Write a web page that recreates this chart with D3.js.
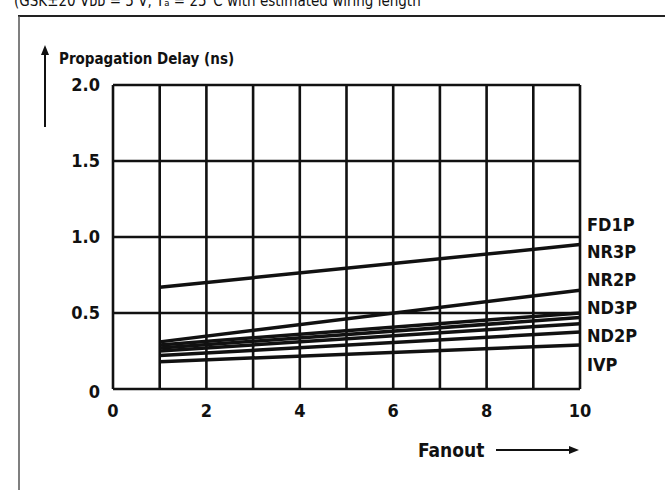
<!DOCTYPE html>
<html>
<head>
<meta charset="utf-8">
<script src="https://cdn.jsdelivr.net/npm/d3@7"></script>
<style>
  body { margin: 0; background: #fff; }
  text { font-family: "DejaVu Sans Condensed", "Liberation Sans Narrow", sans-serif; font-weight: bold; fill: #111; }
</style>
</head>
<body>
<svg width="665" height="490"></svg>
<script>
// fanout points where every curve is read
var fanout = [1, 10];

// delay values (ns), top to bottom
var seriesNames = ["FD1P", "NR3P", "NR2P", "ND3P", "ND2Pa", "ND2P", "IVP"];
var seriesValues = [
    [0.67, 0.95],
    [0.31, 0.65],
    [0.29, 0.50],
    [0.27, 0.47],
    [0.25, 0.43],
    [0.22, 0.375],
    [0.18, 0.29]
];

var labelNames = ["FD1P", "NR3P", "NR2P", "ND3P", "ND2P", "IVP"];
var labelValues = [1.08, 0.90, 0.72, 0.535, 0.35, 0.16];

var xTicks = [0, 2, 4, 6, 8, 10];
var yTicks = [0, 0.5, 1.0, 1.5, 2.0];
var yTickText = ["0", "0.5", "1.0", "1.5", "2.0"];

var svg = d3.select('svg');

var x = d3.scaleLinear().domain([0, 10]).range([113, 580]);
var y = d3.scaleLinear().domain([0, 2]).range([389, 85]);

// page frame (cut off at the top)
svg.append('text')
    .attr('x', 14)
    .attr('y', 6)
    .style('font-size', '15px')
    .style('font-weight', 'normal')
    .text('(GSK\u00b120 V\u1d05\u1d05 = 5 V, T\u2090 = 25\u00b0C with estimated wiring length');

svg.append('line')
    .attr('x1', 18).attr('x2', 665)
    .attr('y1', 16).attr('y2', 16)
    .attr('stroke', '#222').attr('stroke-width', 2);

svg.append('line')
    .attr('x1', 19).attr('x2', 19)
    .attr('y1', 16).attr('y2', 490)
    .attr('stroke', '#555').attr('stroke-width', 1.5);

// grid
var grid = svg.append('g').attr('stroke', '#111').attr('stroke-width', 2.6);

grid.selectAll('.vline')
    .data(d3.range(0, 11))
    .enter()
    .append('line')
    .attr('x1', d => x(d)).attr('x2', d => x(d))
    .attr('y1', y(0)).attr('y2', y(2));

grid.selectAll('.hline')
    .data(yTicks)
    .enter()
    .append('line')
    .attr('x1', x(0)).attr('x2', x(10))
    .attr('y1', d => y(d)).attr('y2', d => y(d));

// data lines
var line = d3.line()
    .x((d, i) => x(fanout[i]))
    .y(d => y(d));

svg.selectAll('.series')
    .data(seriesValues)
    .enter()
    .append('path')
    .attr('d', d => line(d))
    .attr('fill', 'none')
    .attr('stroke', '#111')
    .attr('stroke-width', 3.5);

// tick labels
svg.selectAll('.ytick')
    .data(yTicks)
    .enter()
    .append('text')
    .attr('x', 100)
    .attr('y', (d, i) => y(d) + (i == 0 ? 9 : 6))
    .attr('text-anchor', 'end')
    .style('font-size', '18px')
    .text((d, i) => yTickText[i]);

svg.selectAll('.xtick')
    .data(xTicks)
    .enter()
    .append('text')
    .attr('x', d => x(d))
    .attr('y', 417)
    .attr('text-anchor', 'middle')
    .style('font-size', '18px')
    .text(d => d);

// curve names on the right
svg.selectAll('.lab')
    .data(labelNames)
    .enter()
    .append('text')
    .attr('x', 587)
    .attr('y', (d, i) => y(labelValues[i]) + 6)
    .style('font-size', '18px')
    .text(d => d);

// axis titles with arrows
svg.append('text')
    .attr('x', 59)
    .attr('y', 64)
    .style('font-size', '15px')
    .text('Propagation Delay (ns)');

svg.append('line')
    .attr('x1', 45).attr('x2', 45)
    .attr('y1', 52).attr('y2', 127)
    .attr('stroke', '#111').attr('stroke-width', 2);
svg.append('path')
    .attr('d', 'M41,55 L45,45 L49,55 Z')
    .attr('fill', '#111');

svg.append('text')
    .attr('x', 418)
    .attr('y', 457)
    .style('font-size', '19px')
    .text('Fanout');

svg.append('line')
    .attr('x1', 496).attr('x2', 572)
    .attr('y1', 450).attr('y2', 450)
    .attr('stroke', '#111').attr('stroke-width', 2);
svg.append('path')
    .attr('d', 'M569,446 L579,450 L569,454 Z')
    .attr('fill', '#111');
</script>
</body>
</html>
